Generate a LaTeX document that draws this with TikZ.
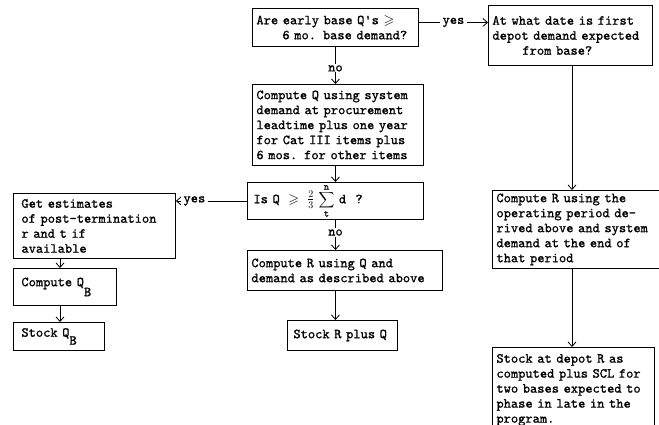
\documentclass[tikz,border=0pt]{standalone}
\usepackage{amssymb}
\usepackage{fontspec}
\newfontfamily\typewriter{lmmono10-regular.otf}[FakeBold=1.0]
\usetikzlibrary{arrows.meta,calc}
\newcommand\limtext[1]{\mbox{\typewriter\fontsize{10}{10}\selectfont #1}}
\begin{document}
\begin{tikzpicture}[x=1pt,y=-1pt,
  font=\typewriter\fontsize{13.8}{15}\selectfont,
  box/.style={draw, line width=0.9pt, anchor=north west, align=left,
    inner xsep=4pt, inner ysep=0pt},
  flow/.style={line width=0.8pt, -{Straight Barb[length=4.5pt,width=8pt]}},
  tag/.style={fill=white, inner xsep=3pt, inner ysep=1pt}]
\useasboundingbox (0,0) rectangle (659,425);

% centre column
\node[box, minimum width=166, minimum height=38, text width=158] (q1) at (252,8)
  {Are early base Q's $\geqslant$\\\hspace*{26pt}6 mo. base demand?};
\node[box, minimum width=171, minimum height=81, text width=163] (box2) at (252,84)
  {Compute Q using system\\demand at procurement\\leadtime plus one year\\for Cat III items plus\\6 mos. for other items};
\node[box, minimum width=176, minimum height=37, text width=164, inner xsep=6pt] (decision) at (247,182)
  {Is Q $\;\geqslant\;\frac{2}{3}\;$%
   {\fontsize{11}{11}\selectfont$\displaystyle\sum_{\limtext{t}}^{\limtext{n}}$} d\ \ ?};
\node[box, minimum width=195, minimum height=40, text width=187] (computeR2) at (247,250)
  {Compute R using Q and\\demand as described above};
\node[box, minimum width=110, minimum height=30, text width=98, inner xsep=6pt] (stockRQ) at (287,320)
  {Stock R plus Q};

% left column
\node[box, minimum width=162, minimum height=65, text width=146, inner xsep=8pt] (getest) at (13,193)
  {Get estimates\\of post-termination\\r and t if\\available};
\node[box, minimum width=103, minimum height=37, text width=87, inner xsep=8pt] (computeQB) at (13,268)
  {Compute Q\raisebox{-10pt}{B}};
\node[box, minimum width=91, minimum height=28, text width=75, inner xsep=8pt] (stockQB) at (13,322)
  {Stock Q\raisebox{-8pt}{B}};

% right column
\node[box, minimum width=164, minimum height=60, text width=156] (date) at (488,5)
  {At what date is first\\depot demand expected\\\hspace*{30pt}from base?};
\node[box, minimum width=175, minimum height=78, text width=167] (computeR1) at (492,190)
  {Compute R using the\\operating period de-\\rived above and system\\demand at the end of\\that period};
\node[box, minimum width=162, minimum height=85, text width=154] (depot) at (492,347)
  {Stock at depot R as\\computed plus SCL for\\two bases expected to\\phase in late in the\\program.};

\coordinate (lc) at (60,0);
\coordinate (rc) at (572,0);

% connectors
\draw[flow] ($(q1.east)+(0,-5)$) -- node[tag]{yes} ($(q1.east -| date.west)+(0,-5)$);
\draw[flow] (q1.south) -- node[tag,pos=0.58]{no} (q1.south |- box2.north);
\draw[flow] (box2.south -| q1.south) -- (decision.north -| q1.south);
\draw[flow] (decision.south -| q1.south) -- node[tag,pos=0.42]{no} (computeR2.north -| q1.south);
\draw[flow] (computeR2.south -| q1.south) -- (stockRQ.north -| q1.south);
\draw[flow] (decision.west) -- node[tag,pos=0.74]{yes} (decision.west -| getest.east);
\draw[flow] (getest.south -| lc) -- (computeQB.north -| lc);
\draw[flow] (computeQB.south -| lc) -- (stockQB.north -| lc);
\draw[flow] (date.south -| rc) -- (computeR1.north -| rc);
\draw[flow] (computeR1.south -| rc) -- (depot.north -| rc);
\end{tikzpicture}
\end{document}
